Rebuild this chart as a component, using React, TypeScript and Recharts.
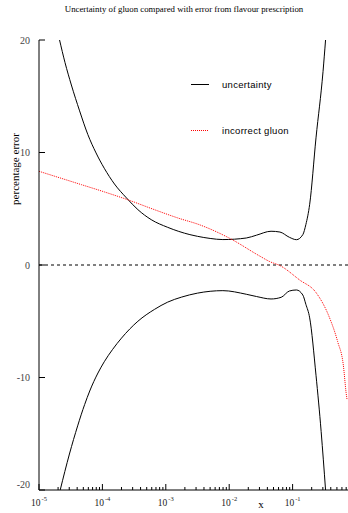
import React from 'react';
import { LineChart, Line, XAxis, YAxis, ReferenceLine, Legend } from 'recharts';

const title = 'Uncertainty of gluon compared with error from flavour prescription';
const yTicks = [-20, -10, 0, 10, 20];
const decades = [1e-5, 1e-4, 1e-3, 1e-2, 1e-1, 1];
const minorMultipliers = [2, 3, 4, 5, 6, 7, 8, 9];

const upperX = [2.11e-5, 2.57e-5, 3.24e-5, 4.37e-5, 5.89e-5, 7.94e-5, 1.07e-4, 1.55e-4, 2.4e-4, 3.63e-4, 5.89e-4, 1.07e-3, 2.4e-3, 3.16e-3, 5.01e-3, 7.94e-3, 0.0186, 0.0269, 0.0457, 0.0631, 0.0891, 0.115, 0.145, 0.162, 0.186, 0.234, 0.302, 0.331];
const upperY = [20, 18.0, 16.0, 13.7, 11.6, 9.96, 8.6, 7.2, 5.96, 4.92, 4.03, 3.35, 2.7, 2.55, 2.36, 2.26, 2.4, 2.65, 3.0, 2.93, 2.46, 2.25, 2.7, 3.6, 5.4, 11.3, 17.2, 20];

const lowerX = [2.16e-5, 3.02e-5, 4.07e-5, 5.25e-5, 6.31e-5, 8.51e-5, 1.07e-4, 1.45e-4, 2.0e-4, 3.63e-4, 6.61e-4, 1.07e-3, 1.78e-3, 3.16e-3, 7.94e-3, 0.0186, 0.0269, 0.0457, 0.0661, 0.0891, 0.115, 0.145, 0.162, 0.186, 0.234, 0.282, 0.331];
const lowerY = [-20, -16.8, -14.3, -12.4, -11.2, -9.6, -8.6, -7.5, -6.5, -5.0, -3.95, -3.3, -2.85, -2.5, -2.28, -2.6, -2.8, -3.02, -2.87, -2.31, -2.22, -2.67, -3.5, -4.7, -9.8, -14.8, -20];

const redX = [1e-5, 4.68e-5, 1.07e-4, 2.51e-4, 6.61e-4, 1.55e-3, 3.47e-3, 0.0102, 0.0302, 0.0437, 0.0631, 0.129, 0.234, 0.38, 0.513, 0.631, 0.7, 0.724];
const redY = [8.33, 7.14, 6.5, 5.8, 4.92, 4.18, 3.56, 2.37, 0.8, 0.3, -0.05, -1.33, -2.45, -4.65, -6.8, -8.9, -11.4, -12.0];

const zip = (xs: number[], ys: number[]) => xs.map((x, i) => ({ x, y: ys[i] }));
const upperData = zip(upperX, upperY);
const lowerData = zip(lowerX, lowerY);
const redData = zip(redX, redY);

const xTicks: number[] = [];
decades.forEach((d) => {
  xTicks.push(d);
  if (d < 1) minorMultipliers.forEach((m) => xTicks.push(d * m));
});

const isMajor = (v: number) => {
  const lg = Math.log10(v);
  return Math.abs(lg - Math.round(lg)) < 1e-6;
};

const XTickBottom = (props: any) => {
  const { x, y, payload } = props;
  const v = payload.value;
  const major = isMajor(v);
  const lg = Math.round(Math.log10(v));
  return (
    <g>
      <line x1={x} y1={y} x2={x} y2={y - (major ? 6 : 3)} stroke="#000" strokeWidth={1} />
      {major && lg < 0 && (
        <text x={x} y={y + 16} textAnchor="middle" fontFamily="Liberation Serif" fontSize={9.5} fill="#222">
          10
          <tspan dx={1} dy={-5} fontSize={6.5}>{String(lg)}</tspan>
        </text>
      )}
    </g>
  );
};

const XTickTop = (props: any) => {
  const { x, y, payload } = props;
  const major = isMajor(payload.value);
  return <line x1={x} y1={y} x2={x} y2={y + (major ? 6 : 3)} stroke="#000" strokeWidth={1} />;
};

const YTick = (props: any) => {
  const { x, y, payload } = props;
  const v = payload.value;
  return (
    <g>
      <line x1={x} y1={y} x2={x + 6} y2={y} stroke="#000" strokeWidth={1} />
      <text x={x - 9} y={y + (v === -20 ? -6 : 0)} dy={3.5} textAnchor="end" fontFamily="Liberation Serif" fontSize={10} fill="#444">
        {String(v)}
      </text>
    </g>
  );
};

const LegendContent = () => (
  <div style={{ fontFamily: 'Liberation Sans', fontSize: 9.5, color: '#000' }}>
    <div style={{ display: 'flex', alignItems: 'center', height: 12 }}>
      <svg width={18} height={12}>
        <line x1={0} y1={6.5} x2={18} y2={6.5} stroke="#000" strokeWidth={1} />
      </svg>
      <span style={{ marginLeft: 13, letterSpacing: 0.3 }}>uncertainty</span>
    </div>
    <div style={{ height: 34 }} />
    <div style={{ display: 'flex', alignItems: 'center', height: 12 }}>
      <svg width={18} height={12}>
        <line x1={0} y1={6.5} x2={18} y2={6.5} stroke="#ff0000" strokeWidth={1} strokeDasharray="1 1" />
      </svg>
      <span style={{ marginLeft: 13, letterSpacing: 0.3 }}>incorrect gluon</span>
    </div>
  </div>
);

const YLabel = (props: any) => {
  const vb = props.viewBox || { x: 0, y: 40 };
  const cx = vb.x + 15;
  const cy = vb.y + 129;
  return (
    <text x={cx} y={cy} transform={`rotate(-90 ${cx} ${cy})`} textAnchor="middle" dominantBaseline="central" fontFamily="Liberation Serif" fontSize={11} fill="#000">
      percentage error
    </text>
  );
};

const XLabel = (props: any) => {
  const vb = props.viewBox || { x: 39, y: 490 };
  return (
    <text x={vb.x + 222} y={vb.y + 18} textAnchor="middle" fontFamily="Liberation Serif" fontSize={11} fill="#000">
      x
    </text>
  );
};

export default function App() {
  return (
    <div style={{ position: 'fixed', left: 0, top: 0, width: 348, height: 513, overflow: 'hidden', background: '#fff' }}>
      <div style={{ position: 'absolute', left: 0, top: 4, width: 368, textAlign: 'center', fontFamily: 'Liberation Serif', fontSize: 8.8, color: '#000', whiteSpace: 'nowrap' }}>
        {title}
      </div>
      <LineChart width={360} height={513} margin={{ top: 40, right: 4, bottom: 0, left: 0 }}>
        <XAxis
          xAxisId="bottom"
          dataKey="x"
          type="number"
          scale="log"
          domain={[1e-5, 1]}
          ticks={xTicks}
          interval={0}
          tickSize={0}
          tickMargin={0}
          tick={<XTickBottom />}
          tickLine={false}
          axisLine={{ stroke: '#000', strokeWidth: 1 }}
          height={23}
          label={<XLabel />}
        />
        <XAxis
          xAxisId="top"
          orientation="top"
          dataKey="x"
          type="number"
          scale="log"
          domain={[1e-5, 1]}
          ticks={xTicks}
          interval={0}
          tickSize={0}
          tickMargin={0}
          tick={<XTickTop />}
          tickLine={false}
          axisLine={{ stroke: '#000', strokeWidth: 1 }}
          height={0}
        />
        <YAxis
          type="number"
          domain={[-20, 20]}
          ticks={yTicks}
          interval={0}
          tickSize={0}
          tickMargin={0}
          tick={<YTick />}
          tickLine={false}
          axisLine={{ stroke: '#000', strokeWidth: 1 }}
          width={39}
          allowDataOverflow
          label={<YLabel />}
        />
        <ReferenceLine xAxisId="bottom" y={0} stroke="#000" strokeWidth={1} strokeDasharray="3 3" />
        <Line xAxisId="bottom" data={upperData} dataKey="y" type="monotone" stroke="#000" strokeWidth={1} dot={false} activeDot={false} isAnimationActive={false} name="uncertainty" />
        <Line xAxisId="bottom" data={lowerData} dataKey="y" type="monotone" stroke="#000" strokeWidth={1} dot={false} activeDot={false} isAnimationActive={false} legendType="none" />
        <Line xAxisId="bottom" data={redData} dataKey="y" type="monotone" stroke="#ff0000" strokeWidth={1} strokeDasharray="1 1" dot={false} activeDot={false} isAnimationActive={false} name="incorrect gluon" />
        <Legend content={<LegendContent />} layout="vertical" align="center" verticalAlign="middle" wrapperStyle={{ position: 'absolute', left: 191, top: 78, width: 150 }} />
      </LineChart>
    </div>
  );
}
